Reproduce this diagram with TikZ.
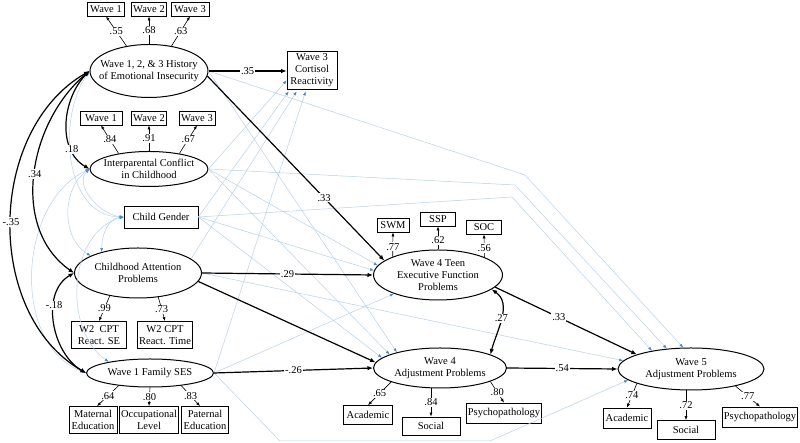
\documentclass[tikz,border=0pt]{standalone}
\usepackage{fontspec}
\setmainfont{Liberation Serif}
\usepackage{xcolor}
\usepackage{tikz}
\usetikzlibrary{shapes.geometric}
\usetikzlibrary{arrows.meta}
\definecolor{nsline}{RGB}{184,208,232}
\definecolor{nstip}{RGB}{74,136,204}
\tikzset{
  latent/.style={ellipse,draw,line width=1pt,inner xsep=-16pt,inner ysep=-7pt,align=center},
  obs/.style={rectangle,draw,line width=0.7pt,inner sep=1.3pt,minimum height=14pt,align=center},
  coef/.style={fill=white,inner sep=1pt},
  sig/.style={line width=1.2pt,-{Latex[length=5.5pt,width=4.5pt]}},
  sigcov/.style={line width=1.2pt,{Latex[length=5.5pt,width=4.5pt]}-{Latex[length=5.5pt,width=4.5pt]}},
  load/.style={line width=0.6pt,-{Latex[length=4pt,width=3pt]}},
  ns/.style={nsline,line width=0.5pt,-{Latex[length=4pt,width=3pt,color=nstip]}},
  nscov/.style={nsline,line width=0.5pt,{Latex[length=4pt,width=3pt,color=nstip]}-{Latex[length=4pt,width=3pt,color=nstip]}}
}

\begin{document}
\begin{tikzpicture}[x=1pt,y=1pt,font=\fontsize{10.5}{12}\selectfont]
    \useasboundingbox (0,0) rectangle (800,443);
    % childhood predictors
    \node[latent,minimum width=118pt,minimum height=53pt] (ei) at (149,372)
      {Wave 1, 2, \& 3 History\\of Emotional Insecurity};
    \node[obs,minimum width=37pt] (eiw1) at (106,434) {Wave 1};
    \node[obs,minimum width=35pt] (eiw2) at (149,434) {Wave 2};
    \node[obs,minimum width=38pt] (eiw3) at (190,434) {Wave 3};
    \node[latent,minimum width=118pt,minimum height=35pt] (ic) at (149,274)
      {Interparental Conflict\\in Childhood};
    \node[obs,minimum width=42pt] (icw1) at (101,325) {Wave 1};
    \node[obs,minimum width=35pt] (icw2) at (149,325) {Wave 2};
    \node[obs,minimum width=36pt] (icw3) at (197,325) {Wave 3};
    \node[obs,minimum width=74pt,minimum height=22pt] (gen) at (161,226) {Child Gender};
    \node[latent,minimum width=127pt,minimum height=50pt] (att) at (138,170)
      {Childhood Attention\\Problems};
    \node[obs,minimum width=55pt,minimum height=27pt] (cpt1) at (99,108) {W2~ CPT\\React. SE};
    \node[obs,minimum width=53pt,minimum height=27pt] (cpt2) at (165,108) {W2 CPT\\React. Time};
    \node[latent,minimum width=127pt,minimum height=28pt] (ses) at (150,70) {Wave 1 Family SES};
    \node[obs,minimum width=48pt,minimum height=27pt] (mat) at (93,23) {Maternal\\Education};
    \node[obs,minimum width=58pt,minimum height=27pt] (occ) at (149,23) {Occupational\\Level};
    \node[obs,minimum width=47pt,minimum height=27pt] (pat) at (205,23) {Paternal\\Education};
    % outcomes
    \node[obs,minimum width=50pt,minimum height=38pt] (cort) at (312,373) {Wave 3\\Cortisol\\Reactivity};
    \node[latent,minimum width=129pt,minimum height=50pt] (ef) at (438,168)
      {Wave 4 Teen\\Executive Function\\Problems};
    \node[obs,minimum width=32pt] (swm) at (393,218) {SWM};
    \node[obs,minimum width=35pt] (ssp) at (438,224) {SSP};
    \node[obs,minimum width=35pt] (soc) at (484,216) {SOC};
    \node[latent,minimum width=133pt,minimum height=40pt] (adj4) at (440,75)
      {Wave 4\\Adjustment Problems};
    \node[obs,minimum width=49pt,minimum height=19pt] (a4ac) at (368,28) {Academic};
    \node[obs,minimum width=58pt,minimum height=18pt] (a4so) at (431,17) {Social};
    \node[obs,minimum width=74pt,minimum height=20pt] (a4ps) at (504,30) {Psychopathology};
    \node[latent,minimum width=146pt,minimum height=42pt] (adj5) at (691,74)
      {Wave 5\\Adjustment Problems};
    \node[obs,minimum width=48pt,minimum height=20pt] (a5ac) at (627,25) {Academic};
    \node[obs,minimum width=58pt,minimum height=19pt] (a5so) at (686,13) {Social};
    \node[obs,minimum width=75pt,minimum height=20pt] (a5ps) at (760,26) {Psychopathology};
    \coordinate (bendA) at (525,268);
    \coordinate (bendB) at (515,258);
    \coordinate (bendC) at (512,246);
    \coordinate (bendD) at (280,2);
    \coordinate (bendE) at (490,2);

    % non-significant paths and covariances
    \draw[ns] (ic.east) -- ([yshift=9pt]cort.south west);
    \draw[ns] (gen.east) -- ([xshift=2pt,yshift=-2pt]cort.south west);
    \draw[ns] (att.15) -- ([xshift=10pt,yshift=-2pt]cort.south west);
    \draw[ns] (ses.east) -- ([xshift=19pt,yshift=-2pt]cort.south west);
    \draw[ns] (ic.east) -- (ef.171);
    \draw[ns] (gen.east) -- (ef.176);
    \draw[ns] (ses.east) -- (ef.203);
    \draw[ns] (ei.east) -- (adj4.160);
    \draw[ns] (ic.east) -- (adj4.165);
    \draw[ns] (gen.east) -- (adj4.170);
    \draw[ns] (ei.east) -- (bendA) -- (adj5.110);
    \draw[ns] (ic.east) -- (bendB) -- (adj5.140);
    \draw[ns] (gen.east) -- (bendC) -- (adj5.155);
    \draw[ns] (att.east) -- (adj5.173);
    \draw[ns] (ses.east) -- (bendD) -- (bendE) -- (adj5.190);
    \draw[nscov] (ei.west) to[out=235,in=180] (gen.west);
    \draw[nscov] (ic.west) to[out=225,in=175] (gen.west);
    \draw[nscov] (ic.west) to[out=215,in=150] (att.160);
    \draw[nscov] (ic.west) to[out=205,in=160] (ses.west);
    \draw[nscov] (gen.west) to[out=185,in=90] (att.150);
    \draw[nscov] (gen.west) to[out=195,in=145] (ses.165);

    % significant paths
    \draw[sig] (ei.east) -- node[coef]{.35} (ei.east -| cort.west);
    \draw[sig] (ei.-5) -- node[coef,pos=.66]{.33} (ef.165);
    \draw[sig] (att.east) -- node[coef]{.29} (ef.west);
    \draw[sig] (att.-8) -- (adj4.175);
    \draw[sig] (ses.east) -- node[coef]{-.26} (adj4.west);
    \draw[sig] (ef.-12) -- node[coef,pos=.45]{.33} (adj5.165);
    \draw[sig] (adj4.east) -- node[coef]{.54} (adj5.west);
    \draw[sigcov] (ef.-15) to[out=-35,in=75] node[coef,pos=.5]{.27} (adj4.15);
    \draw[sigcov] (ei.west) to[out=225,in=150] node[coef,pos=.75]{.18} (ic.west);
    \draw[sigcov] (ei.west) to[out=220,in=145] node[coef]{.34} (att.west);
    \draw[sigcov] (ei.west) to[out=210,in=150] node[coef]{-.35} (ses.west);
    \draw[sigcov] (att.west) to[out=210,in=150] node[coef,pos=.35]{-.18} (ses.west);

    % loadings
    \draw[load] (ei.132) -- node[coef]{.55} (eiw1.south);
    \draw[load] (ei.north) -- node[coef]{.68} (eiw2.south);
    \draw[load] (ei.48) -- node[coef]{.63} (eiw3.south);
    \draw[load] (ic.153) -- node[coef]{.84} (icw1.south);
    \draw[load] (ic.north) -- node[coef]{.91} (icw2.south);
    \draw[load] (ic.27) -- node[coef]{.67} (icw3.south);
    \draw[load] (att.219) -- node[coef]{.99} (cpt1.north);
    \draw[load] (att.-50) -- node[coef]{.73} (cpt2.north);
    \draw[load] (ses.-158) -- node[coef]{.64} ([xshift=4pt]mat.north);
    \draw[load] (ses.south) -- node[coef]{.80} (occ.north);
    \draw[load] (ses.-22) -- node[coef]{.83} ([xshift=-5pt]pat.north);
    \draw[load] (ef.158) -- node[coef,pos=.4]{.77} (swm.south);
    \draw[load] (ef.north) -- node[coef,pos=.4]{.62} (ssp.south);
    \draw[load] (ef.21) -- node[coef,pos=.4]{.56} (soc.south);
    \draw[load] (adj4.196) -- node[coef]{.65} (a4ac.north);
    \draw[load] (adj4.south -| a4so) -- node[coef]{.84} (a4so.north);
    \draw[load] (adj4.-15) -- node[coef]{.80} (a4ps.north);
    \draw[load] (adj5.195) -- node[coef]{.74} (a5ac.north);
    \draw[load] (adj5.south -| a5so) -- node[coef]{.72} (a5so.north);
    \draw[load] (adj5.-21) -- node[coef]{.77} (a5ps.north);
  \end{tikzpicture}
\end{document}
